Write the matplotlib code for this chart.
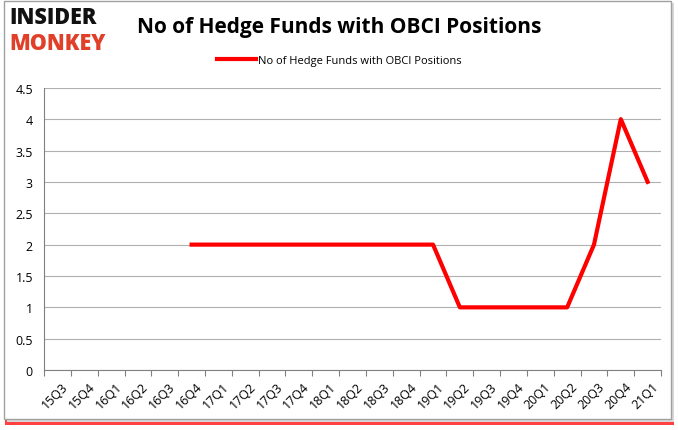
import matplotlib
matplotlib.use("Agg")
import matplotlib.pyplot as plt
import numpy as np
from matplotlib.patches import Rectangle

quarters = ["15Q3", "15Q4", "16Q1", "16Q2", "16Q3", "16Q4", "17Q1", "17Q2", "17Q3",
            "17Q4", "18Q1", "18Q2", "18Q3", "18Q4", "19Q1", "19Q2", "19Q3", "19Q4",
            "20Q1", "20Q2", "20Q3", "20Q4", "21Q1"]
funds = [np.nan, np.nan, np.nan, np.nan, np.nan, 2, 2, 2, 2,
         2, 2, 2, 2, 2, 2, 1, 1, 1,
         1, 1, 2, 4, 3]
series_name = "No of Hedge Funds with OBCI Positions"
title = "No of Hedge Funds with OBCI Positions"
y_ticks = [0, 0.5, 1, 1.5, 2, 2.5, 3, 3.5, 4, 4.5]

plt.rcParams['font.family'] = ['Open Sans', 'DejaVu Sans']

W, H = 678, 431
fig = plt.figure(figsize=(W / 100, H / 100), dpi=100)
fig.patch.set_facecolor("white")

def px(x0, y0, x1, y1):
    return (x0 / W, 1 - y1 / H), (x1 - x0) / W, (y1 - y0) / H

# red bottom shadow and frame
(o, w, h) = px(5, 416, 674, 426)
fig.add_artist(Rectangle(o, w, h, transform=fig.transFigure,
                         facecolor="#ff2020", edgecolor="none", alpha=0.85, zorder=-3))
(o, w, h) = px(7, 4, 674, 423)
fig.add_artist(Rectangle(o, w, h, transform=fig.transFigure,
                         facecolor="#d8d8d8", edgecolor="none", zorder=-2))
(o, w, h) = px(4, 2, 671, 420)
fig.add_artist(Rectangle(o, w, h, transform=fig.transFigure,
                         facecolor="white", edgecolor="#a0a0a0", linewidth=1, zorder=-1))

ax = fig.add_axes([0.065, 0.139, 0.91, 0.655])
x = np.arange(len(quarters))
ax.plot(x, funds, color="#ff0000", linewidth=3, label=series_name)

ax.set_xlim(-0.5, len(quarters) - 0.5)
ax.set_ylim(0, 4.5)
ax.set_yticks(y_ticks)
ax.set_yticklabels([f"{v:g}" for v in y_ticks], fontsize=9)
ax.yaxis.grid(True, color="#b0b0b0", linewidth=0.8)
ax.set_axisbelow(True)
ax.tick_params(axis="y", length=0, pad=8)

ax.set_xticks(np.arange(len(quarters) + 1) - 0.5)
ax.set_xticklabels([])
ax.tick_params(axis="x", which="major", length=4, color="#808080", direction="out")
ax.set_xticks(x + 0.15, minor=True)
ax.set_xticklabels(quarters, minor=True, rotation=45, fontsize=9, ha="right",
                   rotation_mode="anchor")
ax.tick_params(axis="x", which="minor", length=0, pad=7)

for s in ["top", "right"]:
    ax.spines[s].set_visible(False)
ax.spines["left"].set_color("#808080")
ax.spines["bottom"].set_color("#808080")

fig.text(0.5, 0.937, title, ha="center", va="center", fontsize=15, fontweight="bold")
fig.text(0.014, 0.958, "INSIDER", ha="left", va="center", fontsize=15.5, fontweight="heavy",
         color="#111111")
fig.text(0.014, 0.897, "MONKEY", ha="left", va="center", fontsize=15.5, fontweight="heavy",
         color="#e0402a")

leg = fig.legend(loc="center", bbox_to_anchor=(0.5, 0.857), frameon=False, fontsize=8,
                 handlelength=3.5, handletextpad=0.2)

fig.savefig("out.png", dpi=100)
